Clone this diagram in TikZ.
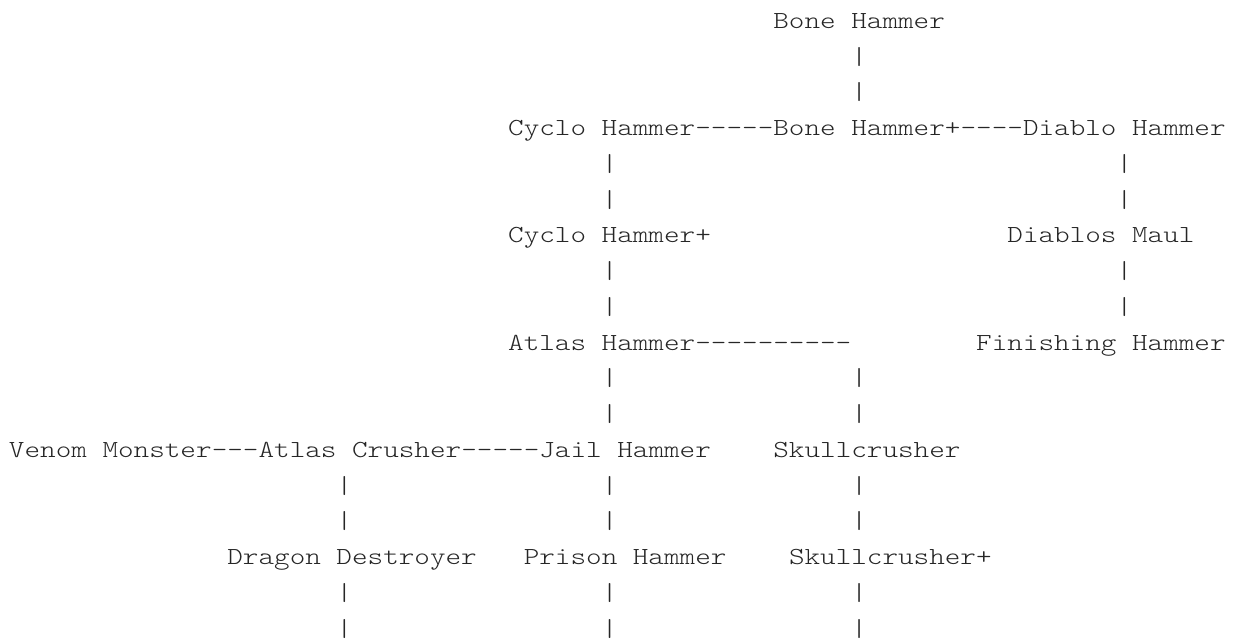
\documentclass[tikz,border=0pt]{standalone}
\usepackage{fontspec}
\setmonofont{Latin Modern Mono Light}[FakeStretch=1.212]
\tikzset{
  txt/.style={inner sep=0pt, outer sep=0pt, anchor=base west,
    font=\fontsize{24.5}{24.5}\selectfont\ttfamily, text=black!85}
}
% name, column, line, text
\newcommand\asc[4]{\node[txt] (#1) at ({9pt+#2*15.6pt},{-28.4pt-#3*35.75pt}) {#4};}
\begin{document}
\begin{tikzpicture}
\fill[white] (0,0) rectangle (1234pt,-641pt);
\useasboundingbox (0,0) rectangle (1234pt,-641pt);
% line 0
\asc{bone}{49}{0}{Bone Hammer}
\asc{v01}{54}{1}{|}
\asc{v02}{54}{2}{|}
% line 3
\asc{cyclo}{32}{3}{Cyclo Hammer}
\asc{h31}{44}{3}{-{}-{}-{}-{}-}
\asc{boneplus}{49}{3}{Bone Hammer+}
\asc{h32}{61}{3}{-{}-{}-{}-}
\asc{diablo}{65}{3}{Diablo Hammer}
\asc{v41}{38}{4}{|}
\asc{v42}{71}{4}{|}
\asc{v51}{38}{5}{|}
\asc{v52}{71}{5}{|}
% line 6
\asc{cycloplus}{32}{6}{Cyclo Hammer+}
\asc{maul}{64}{6}{Diablos Maul}
\asc{v71}{38}{7}{|}
\asc{v72}{71}{7}{|}
\asc{v81}{38}{8}{|}
\asc{v82}{71}{8}{|}
% line 9
\asc{atlas}{32}{9}{Atlas Hammer}
\asc{h9}{44}{9}{-{}-{}-{}-{}-{}-{}-{}-{}-{}-}
\asc{finishing}{62}{9}{Finishing Hammer}
\asc{v101}{38}{10}{|}
\asc{v102}{54}{10}{|}
\asc{v111}{38}{11}{|}
\asc{v112}{54}{11}{|}
% line 12
\asc{venom}{0}{12}{Venom Monster}
\asc{h121}{13}{12}{-{}-{}-}
\asc{crusher}{16}{12}{Atlas Crusher}
\asc{h122}{29}{12}{-{}-{}-{}-{}-}
\asc{jail}{34}{12}{Jail Hammer}
\asc{skull}{49}{12}{Skullcrusher}
\asc{v131}{21}{13}{|}
\asc{v132}{38}{13}{|}
\asc{v133}{54}{13}{|}
\asc{v141}{21}{14}{|}
\asc{v142}{38}{14}{|}
\asc{v143}{54}{14}{|}
% line 15
\asc{dragon}{14}{15}{Dragon Destroyer}
\asc{prison}{33}{15}{Prison Hammer}
\asc{skullplus}{50}{15}{Skullcrusher+}
\asc{v161}{21}{16}{|}
\asc{v162}{38}{16}{|}
\asc{v163}{54}{16}{|}
\asc{v171}{21}{17}{|}
\asc{v172}{38}{17}{|}
\asc{v173}{54}{17}{|}
\end{tikzpicture}
\end{document}
